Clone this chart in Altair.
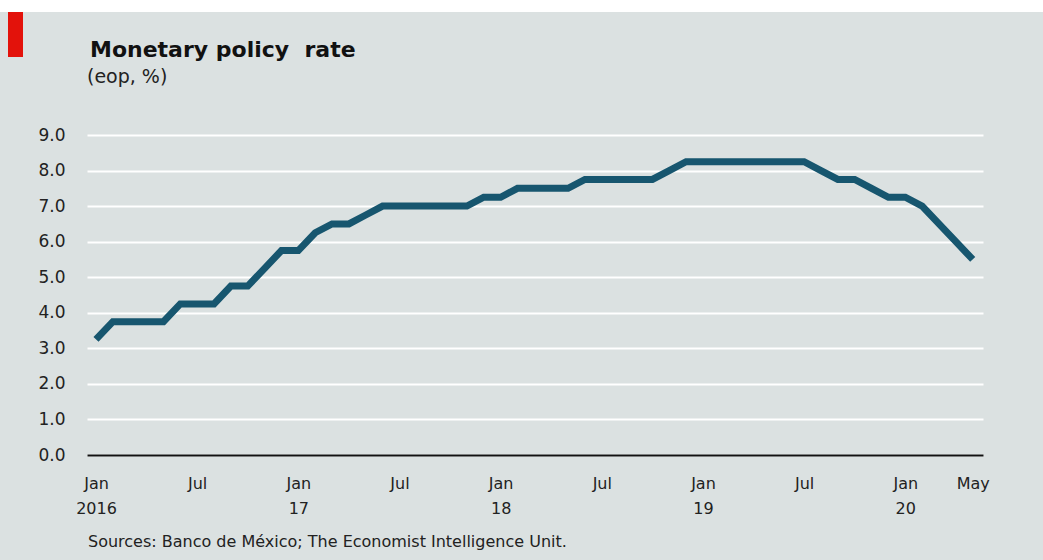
import altair as alt
import pandas as pd

# ---- data ----
months = [d.strftime("%Y-%m") for d in pd.date_range("2016-01-01", "2020-05-01", freq="MS")]
rates = [
    3.25, 3.75, 3.75, 3.75, 3.75, 4.25, 4.25, 4.25, 4.75, 4.75, 5.25, 5.75,
    5.75, 6.25, 6.50, 6.50, 6.75, 7.00, 7.00, 7.00, 7.00, 7.00, 7.00, 7.25,
    7.25, 7.50, 7.50, 7.50, 7.50, 7.75, 7.75, 7.75, 7.75, 7.75, 8.00, 8.25,
    8.25, 8.25, 8.25, 8.25, 8.25, 8.25, 8.25, 8.00, 7.75, 7.75, 7.50, 7.25,
    7.25, 7.00, 6.50, 6.00, 5.50,
]
tick_months = ["2016-01", "2016-07", "2017-01", "2017-07", "2018-01", "2018-07",
               "2019-01", "2019-07", "2020-01", "2020-05"]
tick_labels = [["Jan", "2016"], ["Jul"], ["Jan", "17"], ["Jul"], ["Jan", "18"], ["Jul"],
               ["Jan", "19"], ["Jul"], ["Jan", "20"], ["May"]]
y_ticks = [0, 1, 2, 3, 4, 5, 6, 7, 8, 9]

title_text = "Monetary policy\u00a0 rate"
subtitle_text = "(eop, %)"
source_text = "Sources: Banco de México; The Economist Intelligence Unit."

df = pd.DataFrame({"month": months, "idx": list(range(len(months))), "rate": rates})
tick_idx = [months.index(m) for m in tick_months]

expr = "''"
for i, lab in reversed(list(zip(tick_idx, tick_labels))):
    arr = "[" + ",".join("'" + s + "'" for s in lab) + "]"
    expr = f"datum.value=={i}?{arr}:({expr})"

BG = "#dbe1e1"
LINE = "#17566f"
FONT = "DejaVu Sans"

PLOT_W, PLOT_H = 896, 320
LEFT, TOP = 87, 135

x_enc = alt.X(
    "idx:Q",
    scale=alt.Scale(domain=[-0.534, 52.61], nice=False, zero=False),
    axis=alt.Axis(
        values=tick_idx, labelExpr=expr, title=None, grid=False, ticks=False,
        domain=True, domainColor="#111111", domainWidth=2.2,
        labelFont=FONT, labelFontSize=16, labelColor="#222222",
        labelLineHeight=25, labelPadding=20, labelFlush=False,
        labelOverlap=False, zindex=1,
    ),
)
y_enc = alt.Y(
    "rate:Q",
    scale=alt.Scale(domain=[0, 9], nice=False),
    axis=alt.Axis(
        values=y_ticks, format=".1f", title=None, grid=True, gridColor="#ffffff",
        gridWidth=2, domain=False, ticks=False, labelFont=FONT,
        labelFontSize=17, labelColor="#222222", labelPadding=22,
    ),
)

line = alt.Chart(df).mark_line(color=LINE, strokeWidth=7, strokeJoin="miter").encode(
    x=x_enc, y=y_enc
)

one = pd.DataFrame({"t": [title_text]})
top_band = alt.Chart(one).mark_rect(color="#ffffff").encode(
    x=alt.value(-LEFT), x2=alt.value(1043 - LEFT),
    y=alt.value(-TOP), y2=alt.value(12 - TOP),
)
red_bar = alt.Chart(one).mark_rect(color="#e3120b").encode(
    x=alt.value(8 - LEFT), x2=alt.value(23 - LEFT),
    y=alt.value(12 - TOP), y2=alt.value(57 - TOP),
)
title = alt.Chart(pd.DataFrame({"t": [title_text]})).mark_text(
    align="left", baseline="alphabetic", font=FONT, fontSize=22,
    fontWeight="bold", color="#111111",
).encode(text="t:N", x=alt.value(90 - LEFT), y=alt.value(57 - TOP))
subtitle = alt.Chart(pd.DataFrame({"t": [subtitle_text]})).mark_text(
    align="left", baseline="alphabetic", font=FONT, fontSize=19, color="#222222",
).encode(text="t:N", x=alt.value(87 - LEFT), y=alt.value(83 - TOP))
source = alt.Chart(pd.DataFrame({"t": [source_text]})).mark_text(
    align="left", baseline="alphabetic", font=FONT, fontSize=16, color="#222222",
).encode(text="t:N", x=alt.value(88 - LEFT), y=alt.value(547 - TOP))

chart = (
    alt.layer(line, top_band, red_bar, title, subtitle, source)
    .properties(
        width=PLOT_W, height=PLOT_H,
        autosize=alt.AutoSizeParams(type="none"),
        padding={"left": LEFT, "top": TOP, "right": 1043 - LEFT - PLOT_W,
                 "bottom": 560 - TOP - PLOT_H},
        background=BG,
    )
    .configure_view(stroke=None, fill=BG)
)

chart.save("out.html", embed_options={"renderer": "svg", "actions": False})
